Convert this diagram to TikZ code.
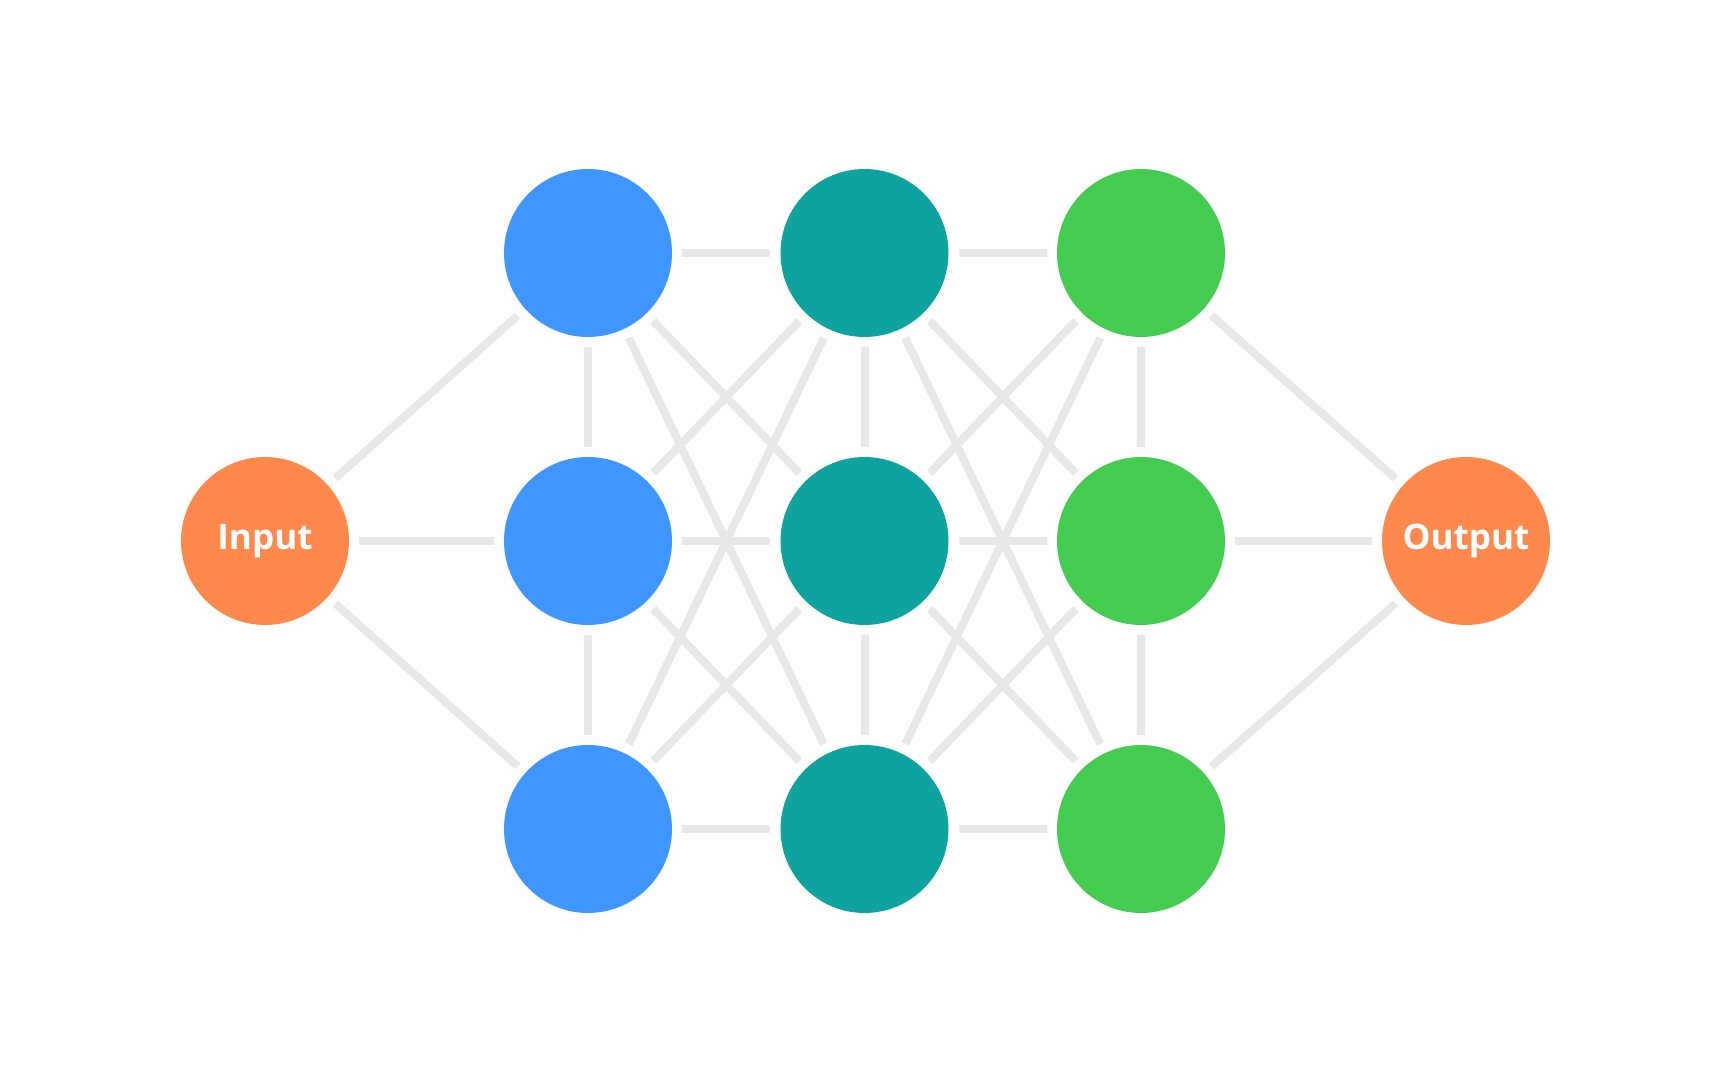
\documentclass[tikz,border=0pt]{standalone}
\usepackage{fontspec}
\setsansfont{Open Sans}
\definecolor{nblue}{RGB}{64,150,255}
\definecolor{nteal}{RGB}{15,163,160}
\definecolor{ngreen}{RGB}{68,204,80}
\definecolor{norange}{RGB}{255,136,77}
\definecolor{wire}{RGB}{232,232,232}
\tikzset{
  neuron/.style={circle, minimum size=1.68cm, inner sep=0pt, text=white, font=\sffamily\bfseries\fontsize{10}{12}\selectfont},
  link/.style={draw=wire, line width=0.8mm, shorten <=0.95mm, shorten >=0.95mm}
}
\begin{document}
\begin{tikzpicture}
    \useasboundingbox (0,0) rectangle (17.28,10.8);

    \node [neuron, fill=norange] (in) at (2.65,5.39) {Input};
    \node [neuron, fill=norange] (out) at (14.66,5.39) {Output};

    \node [neuron, fill=nblue] (a1) at (5.88,8.27) {};
    \node [neuron, fill=nblue] (a2) at (5.88,5.39) {};
    \node [neuron, fill=nblue] (a3) at (5.88,2.51) {};

    \node [neuron, fill=nteal] (b1) at (8.645,8.27) {};
    \node [neuron, fill=nteal] (b2) at (8.645,5.39) {};
    \node [neuron, fill=nteal] (b3) at (8.645,2.51) {};

    \node [neuron, fill=ngreen] (c1) at (11.41,8.27) {};
    \node [neuron, fill=ngreen] (c2) at (11.41,5.39) {};
    \node [neuron, fill=ngreen] (c3) at (11.41,2.51) {};

    % links between layers
    \foreach \i in {1,2,3} {
        \draw [link] (in) -- (a\i);
        \draw [link] (c\i) -- (out);
        \foreach \j in {1,2,3} {
            \draw [link] (a\i) -- (b\j);
            \draw [link] (b\i) -- (c\j);
        }
    }

    % links inside a layer
    \foreach \l in {a,b,c} {
        \draw [link] (\l1) -- (\l2);
        \draw [link] (\l2) -- (\l3);
    }
\end{tikzpicture}
\end{document}
